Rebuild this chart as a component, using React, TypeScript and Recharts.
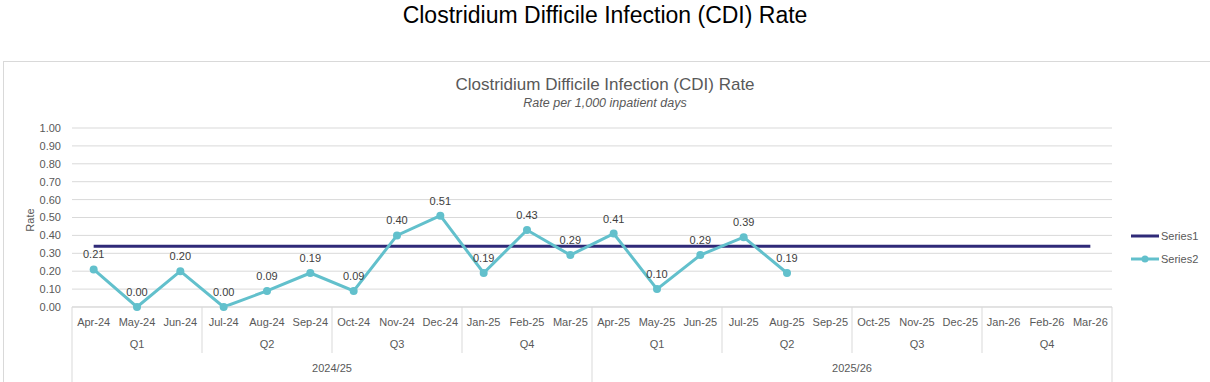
import {
  CartesianGrid,
  LabelList,
  Line,
  LineChart,
  XAxis,
  YAxis,
} from 'recharts';

const months = [
  'Apr-24', 'May-24', 'Jun-24', 'Jul-24', 'Aug-24', 'Sep-24',
  'Oct-24', 'Nov-24', 'Dec-24', 'Jan-25', 'Feb-25', 'Mar-25',
  'Apr-25', 'May-25', 'Jun-25', 'Jul-25', 'Aug-25', 'Sep-25',
  'Oct-25', 'Nov-25', 'Dec-25', 'Jan-26', 'Feb-26', 'Mar-26',
];
const quarters = ['Q1', 'Q2', 'Q3', 'Q4'];
const years = ['2024/25', '2025/26'];

const series1 = [
  0.34, 0.34, 0.34, 0.34, 0.34, 0.34, 0.34, 0.34, 0.34, 0.34, 0.34, 0.34,
  0.34, 0.34, 0.34, 0.34, 0.34, 0.34, 0.34, 0.34, 0.34, 0.34, 0.34, 0.34,
];
const series2 = [
  0.21, 0.0, 0.2, 0.0, 0.09, 0.19, 0.09, 0.4, 0.51, 0.19, 0.43, 0.29,
  0.41, 0.1, 0.29, 0.39, 0.19, null, null, null, null, null, null, null,
];
const yTicks = [0, 0.1, 0.2, 0.3, 0.4, 0.5, 0.6, 0.7, 0.8, 0.9, 1];

const data = months.map((month, i) => ({
  month,
  Series1: series1[i],
  Series2: series2[i],
}));

const W = 1210;
const H = 382;
const PLOT_LEFT = 72;
const PLOT_RIGHT = 1112;
const BAND = (PLOT_RIGHT - PLOT_LEFT) / months.length;
const FONT = '"Liberation Sans", Arial, sans-serif';
const GRID = '#d9d9d9';
const TEXT = '#595959';
const NAVY = '#2f2a78';
const TEAL = '#62c0cc';

function MonthTick(props: any) {
  const { x, y, payload } = props;
  const i: number = payload.index ?? props.index;
  const half = BAND / 2;
  const common = { fontFamily: FONT, fontSize: 11, fill: TEXT, textAnchor: 'middle' as const };
  return (
    <g>
      <text x={x} y={y + 19} {...common}>{payload.value}</text>
      {i % 3 === 0 && (
        <line x1={x - half} x2={x - half} y1={y} y2={i % 12 === 0 ? y + 90 : y + 46} stroke={GRID} />
      )}
      {i % 3 === 1 && (
        <text x={x} y={y + 41} {...common}>{quarters[Math.floor(i / 3) % 4]}</text>
      )}
      {i % 12 === 5 && (
        <text x={x + half} y={y + 65} {...common}>{years[Math.floor(i / 12)]}</text>
      )}
      {i === months.length - 1 && (
        <line x1={x + half} x2={x + half} y1={y} y2={y + 90} stroke={GRID} />
      )}
    </g>
  );
}

function LegendBox() {
  const items = [
    { name: 'Series1', color: NAVY, dot: false },
    { name: 'Series2', color: TEAL, dot: true },
  ];
  return (
    <div style={{ position: 'absolute', left: 1131, top: 224, fontFamily: FONT, fontSize: 11, color: TEXT }}>
      {items.map((it) => (
        <div key={it.name} style={{ display: 'flex', alignItems: 'center', height: 23 }}>
          <svg width={30} height={10}>
            <line x1={0} x2={28} y1={5} y2={5} stroke={it.color} strokeWidth={3} />
            {it.dot && <circle cx={14} cy={5} r={3.5} fill={it.color} />}
          </svg>
          <span>{it.name}</span>
        </div>
      ))}
    </div>
  );
}

export default function App() {
  return (
    <div style={{ position: 'absolute', left: 0, top: 0, width: W, height: H, background: '#fff', overflow: 'hidden' }}>
      <div
        style={{
          position: 'absolute', left: 0, top: 2, width: W, textAlign: 'center',
          fontFamily: FONT, fontSize: 23, color: '#000',
        }}
      >
        Clostridium Difficile Infection (CDI) Rate
      </div>
      <div
        style={{
          position: 'absolute', left: 3, top: 61, width: 1230, height: 360,
          border: `1px solid ${GRID}`, boxSizing: 'border-box',
        }}
      />
      <div
        style={{
          position: 'absolute', left: 0, top: 75, width: W, textAlign: 'center',
          fontFamily: FONT, fontSize: 17, color: TEXT,
        }}
      >
        Clostridium Difficile Infection (CDI) Rate
      </div>
      <div
        style={{
          position: 'absolute', left: 0, top: 96, width: W, textAlign: 'center',
          fontFamily: FONT, fontSize: 12.5, fontStyle: 'italic', color: TEXT,
        }}
      >
        Rate per 1,000 inpatient days
      </div>
      <div
        style={{
          position: 'absolute', left: 14, top: 214, width: 32, textAlign: 'center',
          fontFamily: FONT, fontSize: 11, color: TEXT, transform: 'rotate(-90deg)',
        }}
      >
        Rate
      </div>
      <LegendBox />
      <div style={{ position: 'absolute', left: 0, top: 0 }}>
        <LineChart
          width={W}
          height={H}
          data={data}
          margin={{ top: 128, right: W - PLOT_RIGHT, bottom: 0, left: 24 }}
        >
          <CartesianGrid stroke={GRID} vertical={false} />
          <XAxis
            dataKey="month"
            interval={0}
            height={75}
            padding={{ left: BAND / 2, right: BAND / 2 }}
            axisLine={{ stroke: GRID }}
            tickLine={false}
            tickSize={0}
            tickMargin={0}
            tick={<MonthTick />}
          />
          <YAxis
            width={PLOT_LEFT - 24}
            domain={[0, 1]}
            ticks={yTicks}
            interval={0}
            tickFormatter={(v: number) => v.toFixed(2)}
            axisLine={false}
            tickLine={false}
            tickMargin={5}
            tick={{ fontFamily: FONT, fontSize: 11, fill: TEXT }}
          />
          <Line
            dataKey="Series1"
            stroke={NAVY}
            strokeWidth={3}
            dot={false}
            activeDot={false}
            isAnimationActive={false}
          />
          <Line
            dataKey="Series2"
            stroke={TEAL}
            strokeWidth={3}
            dot={{ r: 4, fill: TEAL, stroke: TEAL, strokeWidth: 0 }}
            isAnimationActive={false}
          >
            <LabelList
              dataKey="Series2"
              position="top"
              offset={11}
              formatter={(v: any) => (v == null ? '' : Number(v).toFixed(2))}
              style={{ fontFamily: FONT, fontSize: 11, fill: '#404040' }}
            />
          </Line>
        </LineChart>
      </div>
    </div>
  );
}
